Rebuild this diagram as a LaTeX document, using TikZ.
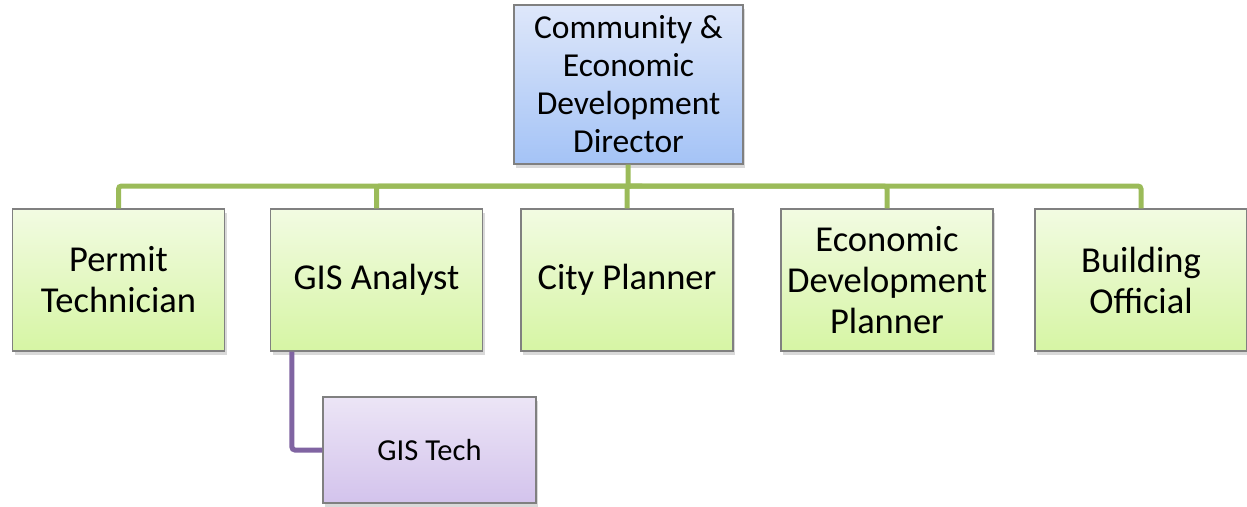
\documentclass[tikz,border=0pt]{standalone}
\usepackage{fontspec}
\setmainfont{Carlito}
\usetikzlibrary{shadows}

\definecolor{boxline}{RGB}{128,128,128}
\definecolor{linkgreen}{RGB}{155,187,89}
\definecolor{linkpurple}{RGB}{128,100,162}

\begin{document}
\begin{tikzpicture}[
  x=1pt,y=-1pt,
  post/.style={draw=boxline, line width=1.2pt, align=center, inner sep=2pt,
    minimum width=212pt, minimum height=142pt,
    drop shadow={shadow xshift=2pt, shadow yshift=-4pt, opacity=0.3},
    top color={rgb,255:red,242;green,251;blue,226}, bottom color={rgb,255:red,214;green,245;blue,164},
    font=\fontsize{36.5}{41}\selectfont},
  head/.style={post, minimum width=229pt, minimum height=159pt,
    top color={rgb,255:red,222;green,231;blue,250}, bottom color={rgb,255:red,164;green,195;blue,246},
    font=\fontsize{33.5}{38}\selectfont},
  sub/.style={post, minimum width=213pt, minimum height=106pt,
    top color={rgb,255:red,236;green,229;blue,246}, bottom color={rgb,255:red,211;green,195;blue,236},
    font=\fontsize{30.5}{36}\selectfont},
  greenlink/.style={draw=linkgreen, line width=5pt, rounded corners=3pt},
  purplelink/.style={draw=linkpurple, line width=5pt, rounded corners=3pt}
]
\useasboundingbox (0,0) rectangle (1247,506);

% boxes
\node[head] (director) at (628.5,84.5) {Community \&\\Economic\\Development\\Director};

\node[post] (permit)   at (118.5,280) {Permit\\Technician};
\node[post] (gis)      at (376.5,280) {GIS Analyst};
\node[post] (planner)  at (627,280)   {City Planner};
\node[post] (econ)     at (887,280)   {Economic\\Development\\Planner};
\node[post] (building) at (1141,280)  {Building\\Official};

\node[sub] (tech) at (429.5,450) {GIS Tech};

% links
\coordinate (bar) at (628,186);
\draw[greenlink] (director) -- (bar);
\foreach \n in {permit,gis,planner,econ,building}
  \draw[greenlink] (bar) -| (\n);

\draw[purplelink] ([xshift=22pt]gis.south west) |- (tech);
\end{tikzpicture}
\end{document}
